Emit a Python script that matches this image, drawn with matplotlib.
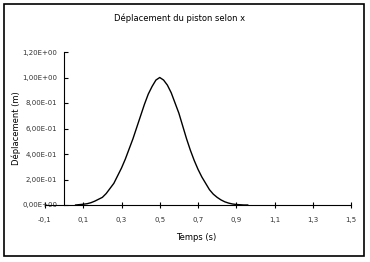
import matplotlib
matplotlib.use("Agg")
import matplotlib.pyplot as plt
from matplotlib.patches import Rectangle
from matplotlib.ticker import FuncFormatter

# temps (s) et deplacement (m)
temps = [0.06, 0.08, 0.10, 0.12, 0.14, 0.16, 0.18, 0.20, 0.22, 0.24,
         0.26, 0.28, 0.30, 0.32, 0.34, 0.36, 0.38, 0.40, 0.42, 0.44,
         0.46, 0.48, 0.50, 0.52, 0.54, 0.56, 0.58, 0.60, 0.62, 0.64,
         0.66, 0.68, 0.70, 0.72, 0.74, 0.76, 0.78, 0.80, 0.82, 0.84,
         0.86, 0.88, 0.90, 0.92, 0.94, 0.96]
deplacement = [0.0, 0.003, 0.006, 0.01, 0.018, 0.03, 0.045, 0.06, 0.09, 0.13,
               0.17, 0.23, 0.29, 0.36, 0.44, 0.52, 0.61, 0.70, 0.79, 0.87,
               0.93, 0.98, 1.00, 0.98, 0.94, 0.88, 0.80, 0.72, 0.62, 0.52,
               0.43, 0.35, 0.28, 0.22, 0.17, 0.12, 0.085, 0.06, 0.04, 0.025,
               0.015, 0.008, 0.004, 0.002, 0.0, 0.0]

xticks = [0.1, 0.3, 0.5, 0.7, 0.9, 1.1, 1.3, 1.5]
yticks = [0.0, 0.2, 0.4, 0.6, 0.8, 1.0, 1.2]

W, H = 370, 262
fig = plt.figure(figsize=(W / 100, H / 100), dpi=100)
fig.patches.append(Rectangle((4 / W, 6 / H), 360 / W, 252 / H, transform=fig.transFigure,
                             fill=False, edgecolor="black", linewidth=1.2))

ax = fig.add_axes([45 / W, 1 - 205 / H, 306 / W, 153 / H])
ax.plot(temps, deplacement, color="black", linewidth=1.0)

ax.set_xlim(-0.1, 1.5)
ax.set_ylim(0, 1.2)
ax.spines["top"].set_visible(False)
ax.spines["right"].set_visible(False)
ax.spines["left"].set_position(("data", 0))
ax.set_xticks([-0.1] + xticks)
ax.set_yticks(yticks)
ax.xaxis.set_major_formatter(FuncFormatter(lambda v, p: f"{v:.1f}".replace(".", ",")))
ax.yaxis.set_major_formatter(FuncFormatter(lambda v, p: f"{v:.2E}".replace(".", ",")))
ax.tick_params(axis="x", direction="inout", length=5, width=0.8, labelsize=5, pad=6, colors="#333333")
ax.tick_params(axis="y", direction="in", length=3, width=0.8, labelsize=5, pad=5, colors="#333333")
ax.tick_params(axis="both", color="black")

fig.text(180 / W, 1 - 18 / H, "Déplacement du piston selon x", ha="center", va="center", fontsize=6)
fig.text(16 / W, 1 - 128 / H, "Déplacement (m)", ha="center", va="center", rotation=90, fontsize=6)
fig.text(196 / W, 1 - 238 / H, "Temps (s)", ha="center", va="center", fontsize=6)

fig.savefig("out.png", dpi=100)
